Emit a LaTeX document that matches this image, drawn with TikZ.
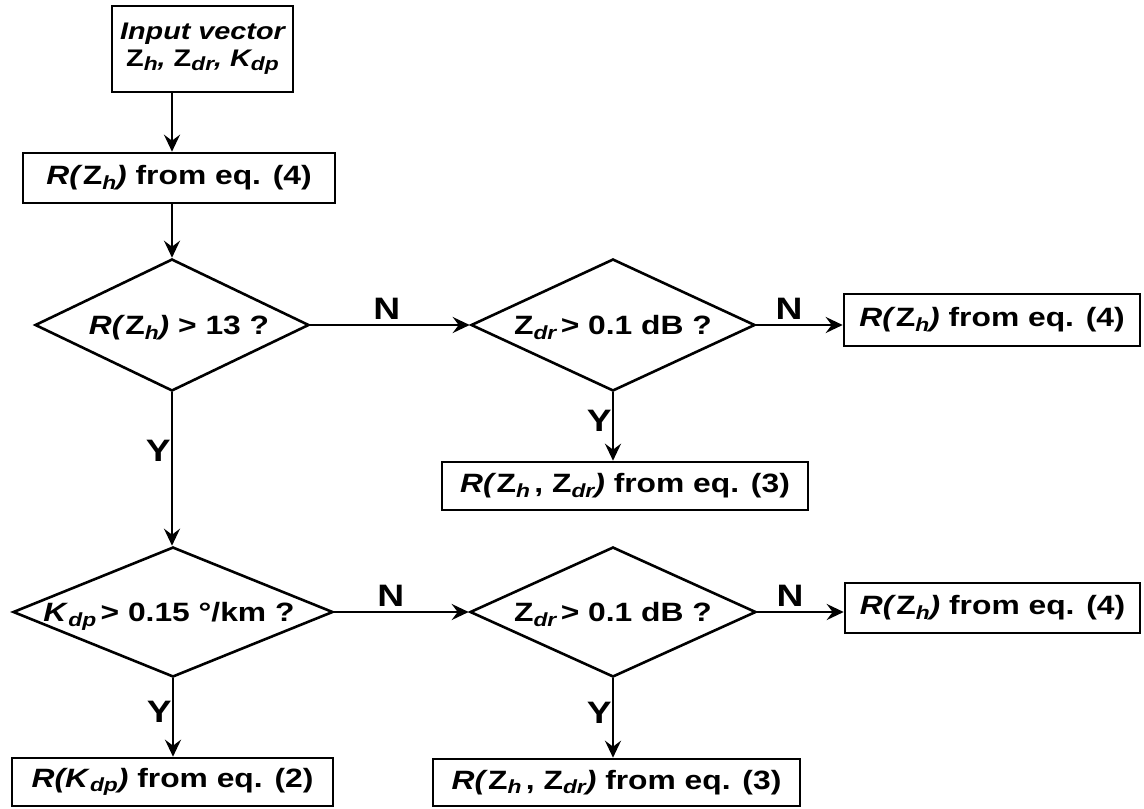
\documentclass[tikz,border=0pt]{standalone}
\usepackage{fontspec}
\setmainfont{Liberation Sans}[FakeStretch=1.2]
\usetikzlibrary{shapes.geometric,arrows.meta}

% italic subscript, lowered below the baseline
\newcommand\lsub[1]{\raisebox{-0.32ex}{\fontsize{19}{19}\selectfont\itshape #1}}
% text placed inside a fixed-size diamond without changing its size
\newcommand\intext[1]{\makebox[0pt]{\raisebox{-0.36em}[0pt][0pt]{#1}}}

\begin{document}
\begin{tikzpicture}[x=1pt,y=-1pt,
  every node/.style={font=\fontsize{26.5}{30}\selectfont\bfseries},
  stepbox/.style={draw, line width=2.6pt, inner sep=0pt, align=center},
  decide/.style={draw, diamond, line width=2.6pt, inner sep=0pt},
  arr/.style={line width=2.6pt, -{Stealth[length=17pt,width=16pt,inset=6pt]}},
  lbl/.style={font=\fontsize{31}{32}\selectfont\bfseries, inner sep=1pt}]
\useasboundingbox (0,0) rectangle (1144,809);

% process boxes
\node[stepbox, minimum width=181pt, minimum height=86pt,
      font=\fontsize{24}{28}\selectfont\bfseries] (in) at (202.5,49)
  {\itshape Input vector\\[-1pt]
   {\upshape Z}\lsub{h}\itshape, {\upshape Z}\lsub{dr}, K\lsub{dp}};
\node[stepbox, minimum width=312pt, minimum height=50pt] (ra) at (179,178)
  {\textit{R(}Z\lsub{h}\textit{)} from eq. (4)};
\node[stepbox, minimum width=296pt, minimum height=52pt] (rb) at (992,320)
  {\textit{R(}Z\lsub{h}\textit{)} from eq. (4)};
\node[stepbox, minimum width=366pt, minimum height=48pt] (rc) at (625,486)
  {\textit{R(}Z\lsub{h}\,, Z\lsub{dr}\textit{)} from eq. (3)};
\node[stepbox, minimum width=295pt, minimum height=50pt] (rd) at (992.5,608)
  {\textit{R(}Z\lsub{h}\textit{)} from eq. (4)};
\node[stepbox, minimum width=321pt, minimum height=48pt] (re) at (172.5,782)
  {\textit{R(K}\lsub{dp}\textit{)} from eq. (2)};
\node[stepbox, minimum width=367pt, minimum height=47pt] (rf) at (616.5,782.5)
  {\textit{R(}Z\lsub{h}\,, Z\lsub{dr}\textit{)} from eq. (3)};

% decisions
\node[decide, minimum width=274pt, minimum height=132pt] (d1) at (172,325)
  {\intext{\kern14pt\textit{R(}Z\lsub{h}\textit{)} > 13 ?}};
\node[decide, minimum width=284pt, minimum height=132pt] (d2) at (613,325)
  {\intext{Z\lsub{dr}\,> 0.1 dB ?}};
\node[decide, minimum width=320pt, minimum height=130pt] (d3) at (173,612)
  {\intext{\kern-8pt\textit{K}\lsub{dp}\,> 0.15 °/km ?}};
\node[decide, minimum width=286pt, minimum height=130pt] (d4) at (613,612)
  {\intext{Z\lsub{dr}\,> 0.1 dB ?}};

% connectors
\draw[arr] (d1.north |- in.south) -- (d1.north |- ra.north);
\draw[arr] (d1.north |- ra.south) -- (d1.north);
\draw[arr] (d1.east) -- node[lbl, above=3pt, pos=0.48] {N} (d2.west);
\draw[arr] (d2.east) -- node[lbl, above=3pt, pos=0.38] {N} (d2.east -| rb.west);
\draw[arr] (d2.south) -- node[lbl, left=-1pt, pos=0.42] {Y} (d2.south |- rc.north);
\draw[arr] (d1.south) -- node[lbl, left=-1pt, pos=0.38] {Y} (d1.south |- d3.north);
\draw[arr] (d3.east) -- node[lbl, above=3pt, pos=0.42] {N} (d4.west);
\draw[arr] (d4.east) -- node[lbl, above=3pt, pos=0.38] {N} (d4.east -| rd.west);
\draw[arr] (d3.south) -- node[lbl, left=-1pt, pos=0.43] {Y} (d3.south |- re.north);
\draw[arr] (d4.south) -- node[lbl, left=-1pt, pos=0.43] {Y} (d4.south |- rf.north);
\end{tikzpicture}
\end{document}
